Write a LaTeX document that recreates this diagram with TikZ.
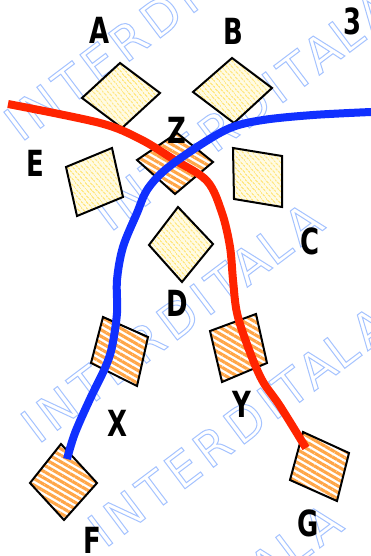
\documentclass[tikz,border=0pt]{standalone}
\usepackage{fontspec}
\usetikzlibrary{patterns.meta}
\newfontfamily\labfont{DejaVu Sans}[FakeStretch=0.72]
\newfontfamily\wmfont{DejaVu Sans}[LetterSpace=11]
\definecolor{redline}{RGB}{255,36,0}
\definecolor{blueline}{RGB}{16,48,255}
\definecolor{orangestripe}{RGB}{255,166,72}
\definecolor{yellowstripe}{RGB}{255,232,135}
\definecolor{yellowbg}{RGB}{255,251,228}
\definecolor{wmblue}{RGB}{165,195,255}
\newcommand\outlinetext[1]{\spaceskip=1pt\relax\special{pdf:literal direct 1 Tr 1 w}#1\special{pdf:literal direct 0 Tr}}
\begin{document}
\begin{tikzpicture}[x=1pt,y=-1pt,
  lab/.style={font=\labfont\bfseries\fontsize{36}{36}\selectfont, inner sep=0pt, text=black},
  wm/.style={font=\wmfont\fontsize{48}{48}\selectfont, text=wmblue, inner sep=0pt, anchor=base west, rotate=37},
  yellowbox/.style={draw=black, line width=2pt, line join=miter,
    preaction={fill=yellowbg},
    pattern={Lines[angle=-50,distance=4pt,line width=1.6pt]}, pattern color=yellowstripe},
  orangebox/.style={draw=black, line width=2pt, line join=miter,
    preaction={fill=white},
    pattern={Lines[angle=-30,distance=5.6pt,line width=3.1pt]}, pattern color=orangestripe},
  curve/.style={line width=8pt, line cap=butt, line join=round}
]
\useasboundingbox (0,0) rectangle (371,556);
\fill[white] (0,0) rectangle (371,556);

% watermark
\begin{scope}
\clip (0,0) rectangle (371,556);
\node (wmA) [wm] at (21,143) {\outlinetext{INTERDIT A LA}};
\node (wmB) [wm] at (110,233) {\outlinetext{INTERDIT A LA}};
\node (wmC) [wm] at (38,445) {\outlinetext{INTERDIT A LA}};
\node (wmD) [wm] at (105,549) {\outlinetext{INTERDIT A LA}};
\node (wmE) [wm] at (57,746) {\outlinetext{INTERDIT A LA}};
\end{scope}

% boxes
\path[yellowbox] (120,63) -- (160,93) -- (122,128) -- (82,98) -- cycle;   % A
\path[yellowbox] (232,58) -- (272,88) -- (234,123) -- (193,92) -- cycle;  % B
\path[yellowbox] (66,167) -- (112,148) -- (123,197) -- (77,216) -- cycle; % E
\path[yellowbox] (233,148) -- (282,156) -- (282,207) -- (234,199) -- cycle; % C
\path[yellowbox] (178,207) -- (213,244) -- (182,282) -- (149,245) -- cycle; % D
\path[orangebox] (177,133) -- (213,162) -- (175,194) -- (137,160) -- cycle; % Z
\path[orangebox] (103,317) -- (148,337) -- (137,386) -- (91,363) -- cycle;  % X
\path[orangebox] (210,331) -- (256,314) -- (267,363) -- (222,382) -- cycle; % Y
\path[orangebox] (61,444) -- (97,483) -- (64,520) -- (30,483) -- cycle;     % F
\path[orangebox] (303,432) -- (349,453) -- (337,501) -- (290,480) -- cycle; % G

% curve ends
\coordinate (redstart) at (8,104);
\coordinate (redend) at (306,448);
\coordinate (bluestart) at (371,112);
\coordinate (blueend) at (67,459);

\draw[curve, redline] plot[smooth, tension=0.55] coordinates {(redstart) (100,123) (140,139) (173,159) (207,181) (222,213) (230,247) (233,280) (237,313) (248,347) (262,380) (280,406) (redend)};
\draw[curve, blueline] plot[smooth, tension=0.55] coordinates {(bluestart) (313,115) (263,120) (230,128) (197,147) (165,170) (147,190) (137,213) (123,247) (117,280) (117,313) (112,347) (105,368) (90,399) (75,433) (blueend)};

% labels
\node (labA) [lab] at (100,30) {A};
\node (labB) [lab] at (233,31) {B};
\node (lab3) [lab] at (353,21) {3};
\node (labZ) [lab] at (177,130) {Z};
\node (labE) [lab] at (35,163) {E};
\node (labC) [lab] at (310,241) {C};
\node (labD) [lab] at (177,303) {D};
\node (labX) [lab] at (117,423) {X};
\node (labY) [lab] at (242,404) {Y};
\node (labF) [lab] at (92,540) {F};
\node (labG) [lab] at (308,523) {G};
\end{tikzpicture}
\end{document}
